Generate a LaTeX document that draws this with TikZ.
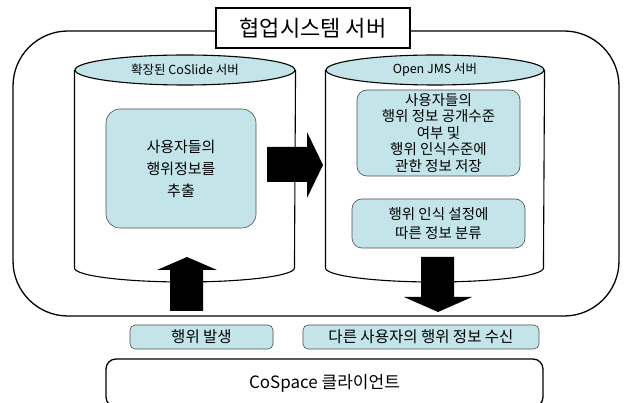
\documentclass[tikz,border=0pt]{standalone}
\usepackage{fontspec}
\setmainfont{Noto Sans CJK KR}
\usetikzlibrary{shapes.geometric}
\definecolor{boxblue}{RGB}{195,229,233}

\begin{document}
\begin{tikzpicture}
	[
	x=1pt, y=-1pt,
	align=center,
	frame/.style={draw, line width=1.3pt},
	cyltop/.style={draw, ellipse, line width=1.1pt, fill=boxblue, minimum height=30pt, inner sep=0pt, font=\fontsize{12.5}{14}\selectfont},
	task/.style={draw=black!70, line width=0.6pt, fill=boxblue, rounded corners=10pt, inner sep=0pt},
	blockarrow/.style={fill=black},
	]
		\useasboundingbox (0,0) rectangle (627,403);
		
		% server frame and title
		\node[frame, rounded corners=55pt, minimum width=606pt, minimum height=285pt] (server) at (316,173.5) {};
		\node[frame, fill=white, minimum width=194pt, minimum height=40pt, inner sep=0pt, font=\fontsize{22}{24}\selectfont] (title) at (313,28) {협업시스템 서버};
		
		% left cylinder
		\node[cyltop, minimum width=220pt] (cs) at (185,70) {확장된 CoSlide 서버};
		\draw[line width=1.1pt] (cs.west) -- ++(0,198) arc[start angle=180, end angle=360, x radius=110pt, y radius=14pt] -- (cs.east);
		\node[task, rounded corners=14pt, minimum width=150pt, minimum height=119pt, font=\fontsize{15}{22}\selectfont] (extract) at (181,168.5) {사용자들의\\행위정보를\\추출};
		
		% right cylinder
		\node[cyltop, minimum width=218pt] (jms) at (435,70) {Open JMS 서버};
		\draw[line width=1.1pt] (jms.west) -- ++(0,198) arc[start angle=180, end angle=360, x radius=109pt, y radius=14pt] -- (jms.east);
		\node[task, minimum width=163pt, minimum height=86pt, font=\fontsize{14.5}{16.5}\selectfont] (store) at (438.5,133) {사용자들의\\행위 정보 공개수준\\여부 및\\행위 인식수준에\\관한 정보 저장};
		\node[task, minimum width=173pt, minimum height=49pt, font=\fontsize{14.5}{19}\selectfont] (classify) at (438.5,223.5) {행위 인식 설정에\\따른 정보 분류};
		
		% client side
		\node[task, rounded corners=5pt, minimum width=143pt, minimum height=24pt, font=\fontsize{15.5}{17}\selectfont] (act) at (201.5,337) {행위 발생};
		\node[task, rounded corners=5pt, minimum width=236pt, minimum height=24pt, font=\fontsize{15.5}{17}\selectfont] (recv) at (421,337) {다른 사용자의 행위 정보 수신};
		\node[frame, rounded corners=10pt, minimum width=437pt, minimum height=48pt, font=\fontsize{17}{19}\selectfont] (client) at (324.5,383) {CoSpace 클라이언트};
		
		% block arrows
		\fill[blockarrow] (267,147) -- (307,147) -- (307,132) -- (323,165) -- (307,198) -- (307,182) -- (267,182) -- cycle;
		\fill[blockarrow] (170,311) -- (170,270) -- (157,270) -- (187,257) -- (217,270) -- (203,270) -- (203,311) -- cycle;
		\fill[blockarrow] (421,257) -- (421,297) -- (404,297) -- (438,312) -- (472,297) -- (454,297) -- (454,257) -- cycle;
		
	\end{tikzpicture}
\end{document}
